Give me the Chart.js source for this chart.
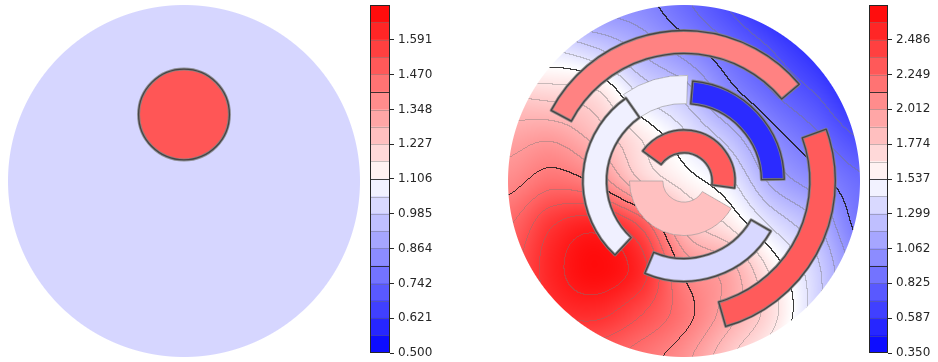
<!DOCTYPE html>
<html>
<head>
<meta charset="utf-8">
<script src="https://cdn.jsdelivr.net/npm/chart.js@4"></script>
<style>
  body { margin: 0; background: #fff; }
  #wrap { position: relative; width: 938px; height: 362px; overflow: hidden; }
  canvas { position: absolute; }
</style>
</head>
<body>
<div id="wrap">
  <canvas id="disk-left" width="352" height="352" style="left:8px;top:5px"></canvas>
  <canvas id="bar-left" width="70" height="362" style="left:370px;top:0"></canvas>
  <canvas id="disk-right" width="352" height="352" style="left:508px;top:5px"></canvas>
  <canvas id="bar-right" width="69" height="362" style="left:869px;top:0"></canvas>
</div>
<script>
Chart.defaults.font.family = "'DejaVu Sans', sans-serif";
Chart.defaults.font.size = 12;
Chart.defaults.color = "#262626";

// contour levels (20 bands) and colorbar ticks
const leftLevels = [0.500, 0.561, 0.621, 0.682, 0.742, 0.803, 0.864, 0.924, 0.985, 1.045,
  1.106, 1.167, 1.227, 1.288, 1.348, 1.409, 1.470, 1.530, 1.591, 1.652, 1.712];
const leftTicks = [0.500, 0.621, 0.742, 0.864, 0.985, 1.106, 1.227, 1.348, 1.470, 1.591];
const rightLevels = [0.350, 0.469, 0.587, 0.706, 0.825, 0.943, 1.062, 1.181, 1.299, 1.418,
  1.537, 1.656, 1.774, 1.893, 2.012, 2.130, 2.249, 2.368, 2.486, 2.605, 2.724];
const rightTicks = [0.350, 0.587, 0.825, 1.062, 1.299, 1.537, 1.774, 2.012, 2.249, 2.486];

// left panel: uniform background + one circular inclusion
const leftGridX = [-1, 1];
const leftGridY = [1, -1];
const leftField = [
  [1.009, 1.009],
  [1.009, 1.009],
];
const leftIncX = [0];
const leftIncY = [0.378];
const leftIncInner = [0];
const leftIncOuter = [0.258];
const leftIncFrom = [0];
const leftIncTo = [360];
const leftIncValue = [1.507];
const leftIncEdge = ["dark"];

// right panel: background field sampled on a grid (rows top -> bottom)
const rightGridX = [-1, -0.75, -0.5, -0.25, 0, 0.25, 0.5, 0.75, 1];
const rightGridY = [1, 0.75, 0.5, 0.25, 0, -0.25, -0.5, -0.75, -1];
const rightField = [
  [0.90, 0.99, 1.02, 0.99, 0.85, 0.70, 0.53, 0.36, 0.36],
  [1.30, 1.40, 1.31, 1.16, 1.01, 0.85, 0.70, 0.54, 0.37],
  [1.75, 1.72, 1.68, 1.40, 1.25, 1.00, 0.83, 0.70, 0.52],
  [1.95, 1.99, 1.85, 1.65, 1.45, 1.25, 1.00, 0.85, 0.70],
  [2.08, 2.20, 2.10, 1.78, 1.60, 1.45, 1.15, 1.00, 0.85],
  [2.24, 2.48, 2.56, 2.35, 1.85, 1.65, 1.40, 1.20, 0.90],
  [2.31, 2.56, 2.67, 2.54, 2.10, 1.95, 1.62, 1.33, 1.00],
  [2.23, 2.47, 2.52, 2.38, 2.18, 1.95, 1.70, 1.33, 0.95],
  [2.04, 2.21, 2.28, 2.19, 2.05, 1.80, 1.57, 1.22, 0.85],
];
// ring-segment inclusions (radius in disk units, angles in degrees)
const rightIncX = [0, 0, 0, 0, 0, 0, 0, 0];
const rightIncY = [0, 0, 0, 0, 0, 0, 0, 0];
const rightIncInner = [0.44, 0.12, 0.44, 0.44, 0.44, 0.16, 0.725, 0.715];
const rightIncOuter = [0.60, 0.31, 0.575, 0.57, 0.57, 0.29, 0.855, 0.86];
const rightIncFrom = [88, 180, 125, 247, 1, -8, 40, -74];
const rightIncTo = [125, 330, 227, 330, 85, 144, 152, 20];
const rightIncValue = [1.466, 1.83, 1.466, 1.356, 0.55, 2.30, 2.118, 2.30];
const rightIncEdge = ["light", "light", "dark", "dark", "dark", "dark", "dark", "dark"];

function bwr(t) {
  t = Math.min(1, Math.max(0, t));
  if (t < 0.5) { const c = Math.round(510 * t); return [c, c, 255]; }
  const c = Math.round(510 * (1 - t));
  return [255, c, c];
}
function bandColor(k, n) { return bwr((k + 0.5) / n); }
function valueColor(v, levels) {
  const lo = levels[0], hi = levels[levels.length - 1];
  return bwr((v - lo) / (hi - lo));
}
function rgb(c) { return "rgb(" + c[0] + "," + c[1] + "," + c[2] + ")"; }
function bandIndex(v, levels) {
  let k = 0;
  while (k < levels.length - 2 && v >= levels[k + 1]) k++;
  return k;
}
function cr(p0, p1, p2, p3, t) {
  return p1 + 0.5 * t * (p2 - p0 + t * (2 * p0 - 5 * p1 + 4 * p2 - p3 + t * (3 * (p1 - p2) + p3 - p0)));
}
function sampleField(m, x, y) {
  const fx = (x - m.gridX[0]) / (m.gridX[1] - m.gridX[0]);
  const fy = (y - m.gridY[0]) / (m.gridY[1] - m.gridY[0]);
  const rows = m.field.length, cols = m.field[0].length;
  const i = Math.floor(fx), j = Math.floor(fy);
  const g = (r, c) => m.field[Math.min(rows - 1, Math.max(0, r))][Math.min(cols - 1, Math.max(0, c))];
  const v = [];
  for (let r = -1; r <= 2; r++) v.push(cr(g(j + r, i - 1), g(j + r, i), g(j + r, i + 1), g(j + r, i + 2), fx - i));
  return cr(v[0], v[1], v[2], v[3], fy - j);
}
function inclusionAt(m, x, y) {
  let hit = -1;
  for (let k = 0; k < m.incValue.length; k++) {
    const dx = x - m.incX[k], dy = y - m.incY[k];
    const r = Math.hypot(dx, dy);
    if (r < m.incInner[k] || r > m.incOuter[k]) continue;
    const span = m.incTo[k] - m.incFrom[k];
    if (span < 360) {
      const a = Math.atan2(dy, dx) * 180 / Math.PI;
      const rel = (((a - m.incFrom[k]) % 360) + 360) % 360;
      if (rel > span) continue;
    }
    hit = k;
  }
  return hit;
}
function mix(c, t, f) {
  return [c[0] + (t[0] - c[0]) * f, c[1] + (t[1] - c[1]) * f, c[2] + (t[2] - c[2]) * f];
}

function diskPlugin(m) {
  return {
    id: "disk",
    beforeDatasetsDraw(chart) {
      const { ctx, chartArea: a, scales: { x: xs, y: ys } } = chart;
      const w = Math.round(a.right - a.left), h = Math.round(a.bottom - a.top);
      const cx = xs.getPixelForValue(0), cy = ys.getPixelForValue(0);
      const R = xs.getPixelForValue(1) - cx;
      const colX = [], rowY = [];
      for (let i = 0; i < w; i++) colX.push(xs.getValueForPixel(a.left + i + 0.5));
      for (let j = 0; j < h; j++) rowY.push(ys.getValueForPixel(a.top + j + 0.5));
      const val = new Float32Array(w * h);
      const band = new Int16Array(w * h);
      const inc = new Int16Array(w * h);
      for (let j = 0; j < h; j++) {
        for (let i = 0; i < w; i++) {
          const p = j * w + i;
          val[p] = sampleField(m, colX[i], rowY[j]);
          band[p] = bandIndex(val[p], m.levels);
          inc[p] = inclusionAt(m, colX[i], rowY[j]);
        }
      }
      const img = ctx.createImageData(w, h);
      const crosses5 = (b1, b2) => {
        for (let l = Math.min(b1, b2) + 1; l <= Math.max(b1, b2); l++) if (l % 5 === 0) return true;
        return false;
      };
      for (let j = 0; j < h; j++) {
        for (let i = 0; i < w; i++) {
          const p = j * w + i;
          const d = Math.hypot(a.left + i + 0.5 - cx, a.top + j + 0.5 - cy);
          const alpha = Math.min(1, Math.max(0, R - d + 0.5));
          if (alpha <= 0) continue;
          let c;
          if (inc[p] >= 0) {
            c = valueColor(m.incValue[inc[p]], m.levels);
          } else {
            c = valueColor(val[p], m.levels);
            let nb = -1;
            if (i > 0 && band[p - 1] !== band[p]) nb = band[p - 1];
            else if (j > 0 && band[p - w] !== band[p]) nb = band[p - w];
            if (nb >= 0) {
              c = crosses5(nb, band[p]) ? mix(c, [25, 25, 25], 0.85) : mix(c, [120, 120, 120], 0.4);
            }
          }
          const o = p * 4;
          img.data[o] = c[0]; img.data[o + 1] = c[1]; img.data[o + 2] = c[2];
          img.data[o + 3] = Math.round(alpha * 255);
        }
      }
      ctx.putImageData(img, a.left, a.top);

      // inclusion outlines
      ctx.save();
      for (let k = 0; k < m.incValue.length; k++) {
        const px = xs.getPixelForValue(m.incX[k]), py = ys.getPixelForValue(m.incY[k]);
        const rOut = m.incOuter[k] * R, rIn = m.incInner[k] * R;
        const a0 = -m.incFrom[k] * Math.PI / 180, a1 = -m.incTo[k] * Math.PI / 180;
        ctx.beginPath();
        if (m.incTo[k] - m.incFrom[k] >= 360) {
          ctx.arc(px, py, rOut, 0, Math.PI * 2);
        } else {
          ctx.arc(px, py, rOut, a0, a1, true);
          ctx.arc(px, py, rIn, a1, a0, false);
          ctx.closePath();
        }
        ctx.lineJoin = "round";
        if (m.incEdge[k] === "dark") {
          ctx.strokeStyle = "rgba(130,130,130,0.85)";
          ctx.lineWidth = 3;
          ctx.stroke();
          ctx.strokeStyle = "rgba(65,65,65,0.95)";
          ctx.lineWidth = 1.3;
          ctx.stroke();
        } else {
          ctx.strokeStyle = "rgba(150,150,150,0.6)";
          ctx.lineWidth = 1;
          ctx.stroke();
        }
      }
      ctx.restore();
    },
  };
}

function disk(id, m) {
  return new Chart(document.getElementById(id), {
    type: "scatter",
    data: { datasets: [] },
    options: {
      responsive: false,
      animation: false,
      devicePixelRatio: 1,
      layout: { padding: 0 },
      plugins: { legend: { display: false }, tooltip: { enabled: false } },
      scales: {
        x: { type: "linear", min: -1, max: 1, display: false },
        y: { type: "linear", min: -1, max: 1, display: false },
      },
    },
    plugins: [diskPlugin(m)],
  });
}

function barLines(levels) {
  return {
    id: "barLines",
    afterDatasetsDraw(chart) {
      const { ctx, chartArea: a, scales: { y } } = chart;
      ctx.save();
      ctx.lineWidth = 1;
      levels.forEach((lv, k) => {
        if (k === 0 || k === levels.length - 1) return;
        const py = Math.round(y.getPixelForValue(lv)) + 0.5;
        ctx.strokeStyle = k % 5 === 0 ? "rgba(30,30,30,0.85)" : "rgba(110,110,110,0.4)";
        ctx.beginPath();
        ctx.moveTo(a.left, py);
        ctx.lineTo(a.right, py);
        ctx.stroke();
      });
      ctx.strokeStyle = "#262626";
      ctx.strokeRect(a.left + 0.5, a.top + 0.5, a.right - a.left - 1, a.bottom - a.top - 1);
      ctx.restore();
    },
  };
}

function colorbar(id, levels, ticks) {
  const n = levels.length - 1;
  const bands = levels.slice(0, -1).map((lo, k) => ({
    data: [[lo, levels[k + 1]]],
    backgroundColor: rgb(bandColor(k, n)),
    borderWidth: 0,
    barPercentage: 1,
    categoryPercentage: 1,
    grouped: false,
  }));
  return new Chart(document.getElementById(id), {
    type: "bar",
    data: { labels: [""], datasets: bands },
    options: {
      responsive: false,
      animation: false,
      devicePixelRatio: 1,
      layout: { padding: { top: 5, bottom: 9, left: 0, right: 0 } },
      plugins: { legend: { display: false }, tooltip: { enabled: false } },
      scales: {
        x: { display: false },
        y: {
          position: "right",
          min: levels[0],
          max: levels[levels.length - 1],
          afterBuildTicks: (s) => { s.ticks = ticks.map((v) => ({ value: v })); },
          afterFit: (s) => { s.width = 50; s.paddingTop = 0; s.paddingBottom = 0; },
          grid: { drawOnChartArea: false, drawTicks: true, tickLength: 4, color: "#262626" },
          border: { display: false },
          ticks: { padding: 4, autoSkip: false, color: "#262626", callback: (v) => Number(v).toFixed(3) },
        },
      },
    },
    plugins: [barLines(levels)],
  });
}

disk("disk-left", {
  levels: leftLevels, gridX: leftGridX, gridY: leftGridY, field: leftField,
  incX: leftIncX, incY: leftIncY, incInner: leftIncInner, incOuter: leftIncOuter,
  incFrom: leftIncFrom, incTo: leftIncTo, incValue: leftIncValue, incEdge: leftIncEdge,
});
colorbar("bar-left", leftLevels, leftTicks);
disk("disk-right", {
  levels: rightLevels, gridX: rightGridX, gridY: rightGridY, field: rightField,
  incX: rightIncX, incY: rightIncY, incInner: rightIncInner, incOuter: rightIncOuter,
  incFrom: rightIncFrom, incTo: rightIncTo, incValue: rightIncValue, incEdge: rightIncEdge,
});
colorbar("bar-right", rightLevels, rightTicks);
</script>
</body>
</html>
